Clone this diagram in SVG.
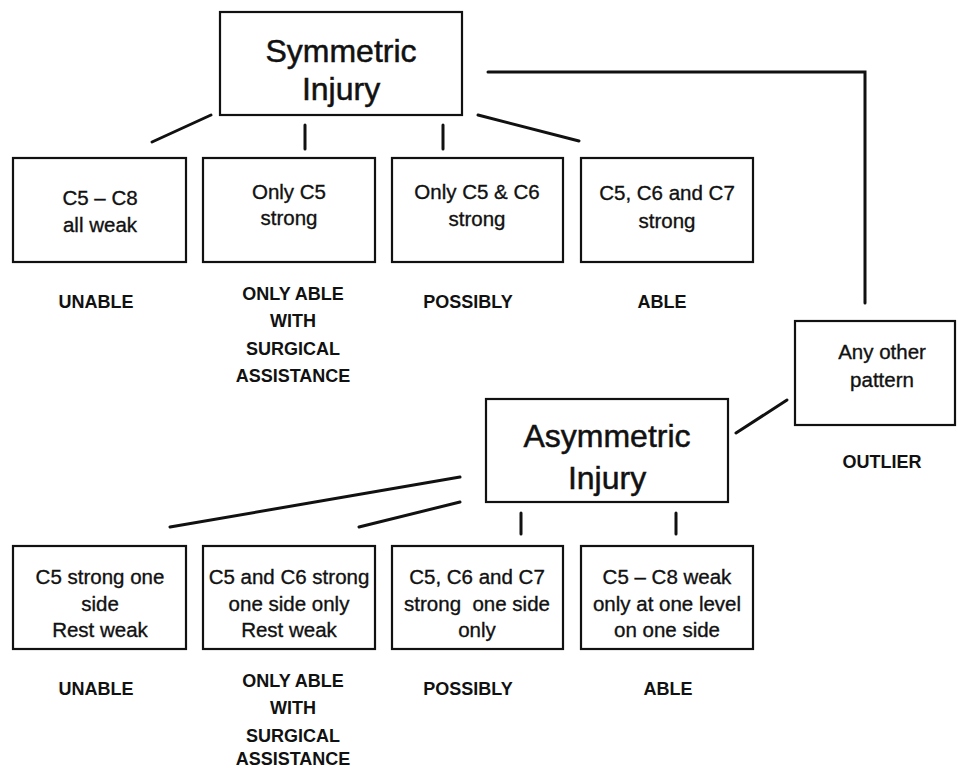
<svg xmlns="http://www.w3.org/2000/svg" width="958" height="769" viewBox="0 0 958 769">
<style>
.box{fill:#fff;stroke:#111;stroke-width:2.2}
.c{fill:none;stroke:#111;stroke-width:3;stroke-linecap:round}
text{font-family:"Liberation Sans",Arial,sans-serif;fill:#111;text-anchor:middle}
.h{font-size:32px;stroke:#111;stroke-width:0.5}
.t{font-size:20.5px;stroke:#111;stroke-width:0.35}
.l{font-size:18px;font-weight:bold}
</style>
<rect width="958" height="769" fill="#fff"/>
<g id="connectors">
<line class="c" x1="211" y1="115" x2="152" y2="142"/>
<line class="c" x1="305" y1="125" x2="305" y2="149"/>
<line class="c" x1="443" y1="125" x2="443" y2="149"/>
<line class="c" x1="478" y1="115" x2="579" y2="141"/>
<path class="c" d="M488,72 H865 V303"/>
<line class="c" x1="736" y1="433" x2="787" y2="400"/>
<line class="c" x1="460" y1="477" x2="170" y2="527"/>
<line class="c" x1="460" y1="502" x2="359" y2="527"/>
<line class="c" x1="521" y1="513" x2="521" y2="534"/>
<line class="c" x1="676" y1="513" x2="676" y2="534"/>
</g>
<g id="symmetric">
<rect class="box" x="220" y="12" width="242" height="103"/>
<text class="h" x="341" y="62">Symmetric</text>
<text class="h" x="341" y="100">Injury</text>
</g>
<g id="s1">
<rect class="box" x="13" y="158" width="173" height="104"/>
<text class="t" x="100" y="205">C5 – C8</text>
<text class="t" x="100" y="232">all weak</text>
<text class="l" x="96" y="308">UNABLE</text>
</g>
<g id="s2">
<rect class="box" x="203" y="158" width="172" height="104"/>
<text class="t" x="289" y="199">Only C5</text>
<text class="t" x="289" y="225">strong</text>
<text class="l" x="293" y="300">ONLY ABLE</text>
<text class="l" x="293" y="327">WITH</text>
<text class="l" x="293" y="355">SURGICAL</text>
<text class="l" x="293" y="382">ASSISTANCE</text>
</g>
<g id="s3">
<rect class="box" x="392" y="158" width="171" height="104"/>
<text class="t" x="477" y="199">Only C5 &amp; C6</text>
<text class="t" x="477" y="226">strong</text>
<text class="l" x="468" y="308">POSSIBLY</text>
</g>
<g id="s4">
<rect class="box" x="581" y="158" width="172" height="104"/>
<text class="t" x="667" y="200">C5, C6 and C7</text>
<text class="t" x="667" y="228">strong</text>
<text class="l" x="662" y="308">ABLE</text>
</g>
<g id="other">
<rect class="box" x="795" y="321" width="160" height="104"/>
<text class="t" x="882" y="359">Any other</text>
<text class="t" x="882" y="387">pattern</text>
<text class="l" x="882" y="468">OUTLIER</text>
</g>
<g id="asymmetric">
<rect class="box" x="486" y="399" width="242" height="103"/>
<text class="h" x="607" y="447">Asymmetric</text>
<text class="h" x="607" y="489">Injury</text>
</g>
<g id="a1">
<rect class="box" x="13" y="546" width="173" height="103"/>
<text class="t" x="100" y="584">C5 strong one</text>
<text class="t" x="100" y="611">side</text>
<text class="t" x="100" y="637">Rest weak</text>
<text class="l" x="96" y="695">UNABLE</text>
</g>
<g id="a2">
<rect class="box" x="203" y="546" width="172" height="103"/>
<text class="t" x="289" y="584">C5 and C6 strong</text>
<text class="t" x="289" y="611">one side only</text>
<text class="t" x="289" y="637">Rest weak</text>
<text class="l" x="293" y="687">ONLY ABLE</text>
<text class="l" x="293" y="714">WITH</text>
<text class="l" x="293" y="742">SURGICAL</text>
<text class="l" x="293" y="765">ASSISTANCE</text>
</g>
<g id="a3">
<rect class="box" x="392" y="546" width="171" height="103"/>
<text class="t" x="477" y="584">C5, C6 and C7</text>
<text class="t" x="477" y="611" xml:space="preserve">strong  one side</text>
<text class="t" x="477" y="637">only</text>
<text class="l" x="468" y="695">POSSIBLY</text>
</g>
<g id="a4">
<rect class="box" x="581" y="546" width="172" height="103"/>
<text class="t" x="667" y="584">C5 – C8 weak</text>
<text class="t" x="667" y="611">only at one level</text>
<text class="t" x="667" y="637">on one side</text>
<text class="l" x="668" y="695">ABLE</text>
</g>
</svg>
